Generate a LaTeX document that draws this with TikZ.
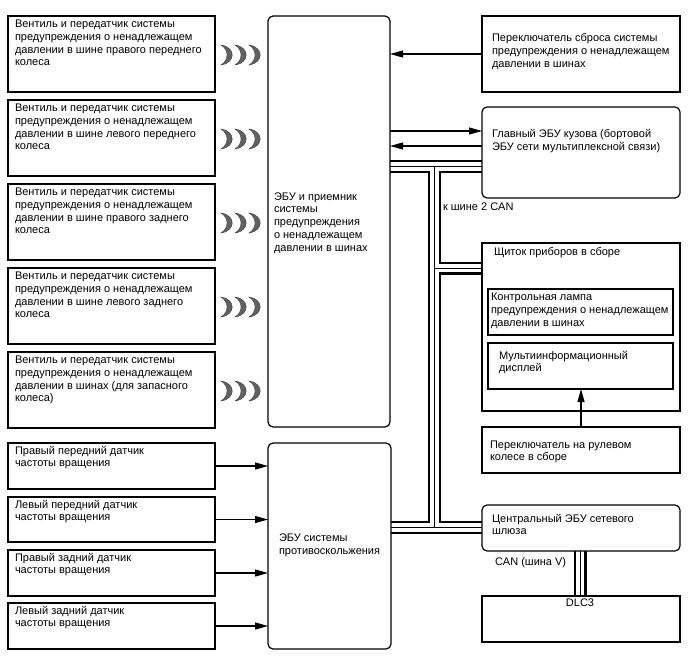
\documentclass[tikz,border=0pt]{standalone}
\usepackage{fontspec}
\setmainfont{Liberation Sans}
\usetikzlibrary{arrows.meta,backgrounds}
\newcommand\mkbox[6]{\node[#1, minimum width={(#5-#3)*1pt}, minimum height={(#6-#4)*1pt}] (#2) at ({(#3+#5)/2},{(#4+#6)/2}) {};}
\newcommand\mktext[4]{\node[txt, anchor=north west] (#1) at (#2,{#3-7.9}) {#4};}
\newcommand\crescents[2]{%
  \foreach \cx in {221,235,249}{%
    \fill[wavefill] (\cx,{#2-10}) .. controls ({\cx+15},{#2-8}) and ({\cx+15},{#2+8}) .. (\cx,{#2+10})
      .. controls ({\cx+8},{#2+5}) and ({\cx+8},{#2-5}) .. cycle;}%
}
\tikzset{
  sbox/.style={draw=black, line width=1.2pt, fill=white, inner sep=0pt, outer sep=0pt, rectangle},
  rbox/.style={sbox, rounded corners=5pt},
  txt/.style={inner sep=0pt, outer sep=0pt, align=left, font=\fontsize{11}{12.7}\selectfont},
  arr/.style={line width=1.2pt, -{Triangle[length=13pt,width=7pt]}},
  bus/.style={draw=black, line width=13pt, postaction={draw=white, line width=8.6pt}, postaction={draw=black, line width=1pt}},
  wavefill/.style={fill=black!62, draw=black!80, line width=0.3pt}
}
\begin{document}
\begin{tikzpicture}[x=1pt,y=-1pt]
\useasboundingbox (0,0) rectangle (688,658);
% left valve boxes
\mkbox{sbox}{v1}{8}{16}{215}{92}
\mkbox{sbox}{v2}{8}{100}{215}{176}
\mkbox{sbox}{v3}{8}{184}{215}{260}
\mkbox{sbox}{v4}{8}{268}{215}{344}
\mkbox{sbox}{v5}{8}{352}{215}{428}
\mktext{v1t}{15}{28}{Вентиль и передатчик системы\\предупреждения о ненадлежащем\\давлении в шине правого переднего\\колеса}
\mktext{v2t}{15}{112}{Вентиль и передатчик системы\\предупреждения о ненадлежащем\\давлении в шине левого переднего\\колеса}
\mktext{v3t}{15}{196}{Вентиль и передатчик системы\\предупреждения о ненадлежащем\\давлении в шине правого заднего\\колеса}
\mktext{v4t}{15}{280}{Вентиль и передатчик системы\\предупреждения о ненадлежащем\\давлении в шине левого заднего\\колеса}
\mktext{v5t}{15}{364}{Вентиль и передатчик системы\\предупреждения о ненадлежащем\\давлении в шинах (для запасного\\колеса)}
\crescents{1}{55}
\crescents{2}{139}
\crescents{3}{223}
\crescents{4}{307}
\crescents{5}{391}
% sensors
\mkbox{sbox}{s1}{8}{443}{215}{489}
\mkbox{sbox}{s2}{8}{497}{215}{542}
\mkbox{sbox}{s3}{8}{550}{215}{596}
\mkbox{sbox}{s4}{8}{603}{215}{649}
\mktext{s1t}{15}{454}{Правый передний датчик\\частоты вращения}
\mktext{s2t}{15}{508}{Левый передний датчик\\частоты вращения}
\mktext{s3t}{15}{561}{Правый задний датчик\\частоты вращения}
\mktext{s4t}{15}{614}{Левый задний датчик\\частоты вращения}
% ECUs
\mkbox{rbox}{tp}{268}{16}{390}{427}
\mktext{tpt}{274}{200.5}{ЭБУ и приемник\\системы\\предупреждения\\о ненадлежащем\\давлении в шинах}
\mkbox{rbox}{abs}{268}{443}{391}{649}
\mktext{abst}{279}{542}{ЭБУ системы\\противоскольжения}
% right column
\mkbox{sbox}{rs}{482}{16}{680}{92}
\mktext{rst}{492}{41.5}{Переключатель сброса системы\\предупреждения о ненадлежащем\\давлении в шинах}
\mkbox{rbox}{body}{482}{107}{680}{198}
\mktext{bodyt}{492}{137.5}{Главный ЭБУ кузова (бортовой\\ЭБУ сети мультиплексной связи)}
\mkbox{sbox}{cl}{482}{243}{680}{411}
\mktext{clt}{494}{255.5}{Щиток приборов в сборе}
\mkbox{sbox}{lamp}{488}{289}{673}{335}
\mktext{lampt}{491}{301}{Контрольная лампа\\предупреждения о ненадлежащем\\давлении в шинах}
\mkbox{sbox}{disp}{488}{343}{673}{389}
\mktext{dispt}{499}{359}{Мультиинформационный\\дисплей}
\mkbox{sbox}{sw}{482}{427}{680}{473}
\mktext{swt}{490}{448.5}{Переключатель на рулевом\\колесе в сборе}
\mkbox{rbox}{gw}{482}{505}{680}{551}
\mktext{gwt}{492}{522}{Центральный ЭБУ сетевого\\шлюза}
\mkbox{sbox}{dlc}{482}{596}{680}{642}
\node[txt, anchor=north] (dlct) at (580,{607-7.9}) {DLC3};
\mktext{cant}{495}{565}{CAN (шина V)}
\mktext{k2t}{443}{210.5}{к шине 2 CAN}
% arrows
\draw[arr] (s1.east) -- (s1.east -| abs.west);
\draw[arr] (s2.east) -- (s2.east -| abs.west);
\draw[arr] (s3.east) -- (s3.east -| abs.west);
\draw[arr] (s4.east) -- (s4.east -| abs.west);
\draw[arr] (rs.west) -- (rs.west -| tp.east);
\coordinate (b1) at (0,131);
\coordinate (b2) at (0,146);
\draw[arr] (b1 -| tp.east) -- (b1 -| body.west);
\draw[arr] (b2 -| body.west) -- (b2 -| tp.east);
\coordinate (swx) at (581,0);
\draw[arr] (swx |- sw.north) -- (swx |- disp.south);
% buses
\coordinate (j1) at (434.5,166.5);
\coordinate (j2) at (434.5,527.5);
\coordinate (j3) at (434.5,268);
\coordinate (dx) at (580,0);
\begin{scope}[on background layer]
\path[bus] (j1 -| tp.east) -- (j1 -| body.west)
  (j1) -- (j2)
  (j3) -- (j3 -| cl.west)
  (j2 -| abs.east) -- (j2 -| gw.west)
  (dx |- gw.south) -- (dx |- dlc.north);
\end{scope}
\end{tikzpicture}
\end{document}
